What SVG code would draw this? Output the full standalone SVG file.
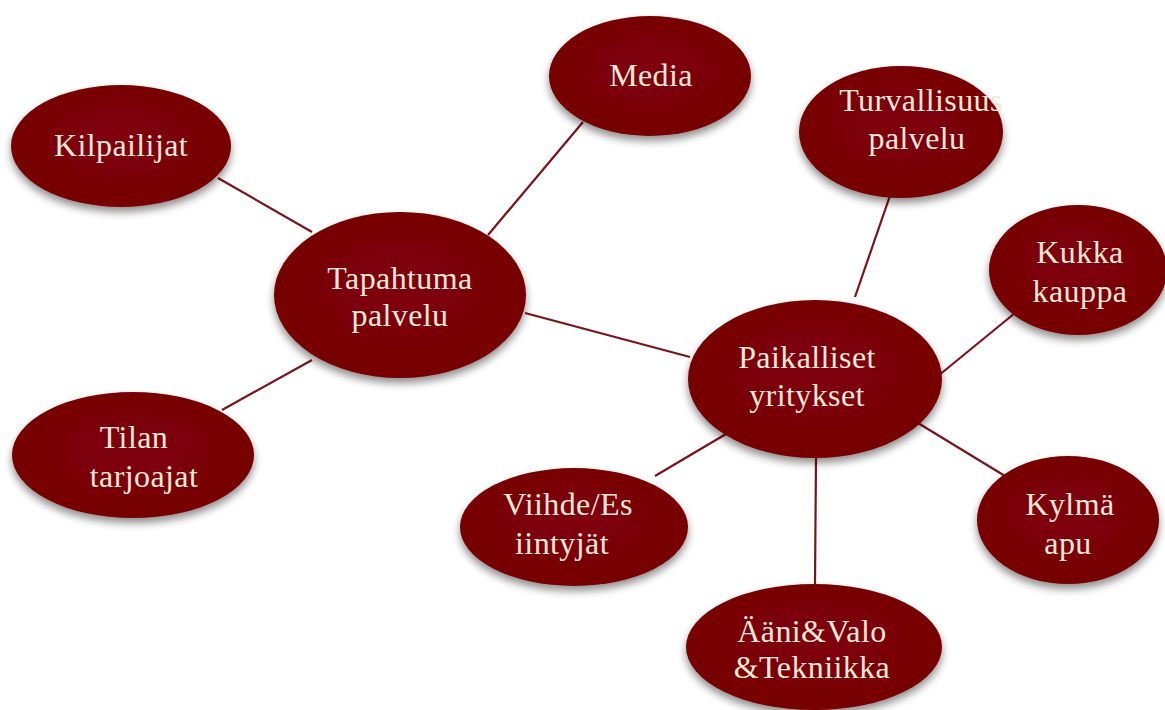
<svg xmlns="http://www.w3.org/2000/svg" width="1165" height="710" viewBox="0 0 1165 710">
  <defs>
    <radialGradient id="felt" cx="50%" cy="45%" r="60%">
      <stop offset="0" stop-color="#850c13"/>
      <stop offset="1" stop-color="#7a0810"/>
    </radialGradient>
    <filter id="shadow" x="-20%" y="-20%" width="140%" height="150%">
      <feGaussianBlur in="SourceAlpha" stdDeviation="4"/>
      <feOffset dx="0" dy="5" result="blur"/>
      <feComponentTransfer in="blur" result="soft">
        <feFuncA type="linear" slope="0.45"/>
      </feComponentTransfer>
      <feTurbulence type="fractalNoise" baseFrequency="0.9" numOctaves="2" seed="3" result="noise"/>
      <feColorMatrix in="noise" type="matrix" values="0 0 0 0 0  0 0 0 0 0  0 0 0 0 0  0 0 0 0.15 0" result="grain"/>
      <feComposite in="grain" in2="SourceGraphic" operator="in" result="grainIn"/>
      <feMerge>
        <feMergeNode in="soft"/>
        <feMergeNode in="SourceGraphic"/>
        <feMergeNode in="grainIn"/>
      </feMerge>
    </filter>
  </defs>
  <style>
    .node ellipse { fill: url(#felt); filter: url(#shadow); }
    .node text { font-size: 32px; letter-spacing: 0.4px; fill: #f2e8d8; text-anchor: middle; }
    .links line { stroke: #7a1418; stroke-width: 2.2; }
  </style>
  <rect width="1165" height="710" fill="#ffffff"/>

  <g class="links">
    <line x1="218" y1="178" x2="312" y2="232"/>
    <line x1="583" y1="122" x2="488" y2="235"/>
    <line x1="222" y1="410" x2="312" y2="360"/>
    <line x1="525" y1="313" x2="690" y2="357"/>
    <line x1="893" y1="187" x2="855" y2="297"/>
    <line x1="1015" y1="313" x2="938" y2="376"/>
    <line x1="655" y1="476" x2="726" y2="434"/>
    <line x1="918" y1="423" x2="1005" y2="476"/>
    <line x1="816" y1="456" x2="815" y2="584"/>
  </g>

  <g font-family="Liberation Serif, DejaVu Serif, serif">
  <g id="kilpailijat" class="node">
    <ellipse cx="121" cy="146" rx="110" ry="61"/>
    <text x="121" y="156">Kilpailijat</text>
  </g>
  <g id="media" class="node">
    <ellipse cx="650" cy="76" rx="101" ry="60"/>
    <text x="651" y="86">Media</text>
  </g>
  <g id="turvallisuus" class="node">
    <ellipse cx="901" cy="132" rx="102" ry="66"/>
    <text x="921" y="111">Turvallisuus</text>
    <text x="917" y="149">palvelu</text>
  </g>
  <g id="tapahtuma" class="node">
    <ellipse cx="400" cy="295" rx="126" ry="83"/>
    <text x="400" y="289">Tapahtuma</text>
    <text x="400" y="326">palvelu</text>
  </g>
  <g id="kukka" class="node">
    <ellipse cx="1078" cy="270" rx="89" ry="65"/>
    <text x="1080" y="263">Kukka</text>
    <text x="1080" y="302">kauppa</text>
  </g>
  <g id="paikalliset" class="node">
    <ellipse cx="815" cy="379" rx="127" ry="79"/>
    <text x="807" y="368">Paikalliset</text>
    <text x="807" y="406">yritykset</text>
  </g>
  <g id="tilan" class="node">
    <ellipse cx="133" cy="455" rx="121" ry="63"/>
    <text x="134" y="448">Tilan</text>
    <text x="144" y="487">tarjoajat</text>
  </g>
  <g id="viihde" class="node">
    <ellipse cx="574" cy="527" rx="114" ry="59"/>
    <text x="568" y="515">Viihde/Es</text>
    <text x="562" y="554">iintyjät</text>
  </g>
  <g id="kylma" class="node">
    <ellipse cx="1068" cy="520" rx="91" ry="64"/>
    <text x="1070" y="515">Kylmä</text>
    <text x="1068" y="554">apu</text>
  </g>
  <g id="aani" class="node">
    <ellipse cx="814" cy="647" rx="128" ry="63"/>
    <text x="812" y="642">Ääni&amp;Valo</text>
    <text x="812" y="678">&amp;Tekniikka</text>
  </g>
  </g>
</svg>
